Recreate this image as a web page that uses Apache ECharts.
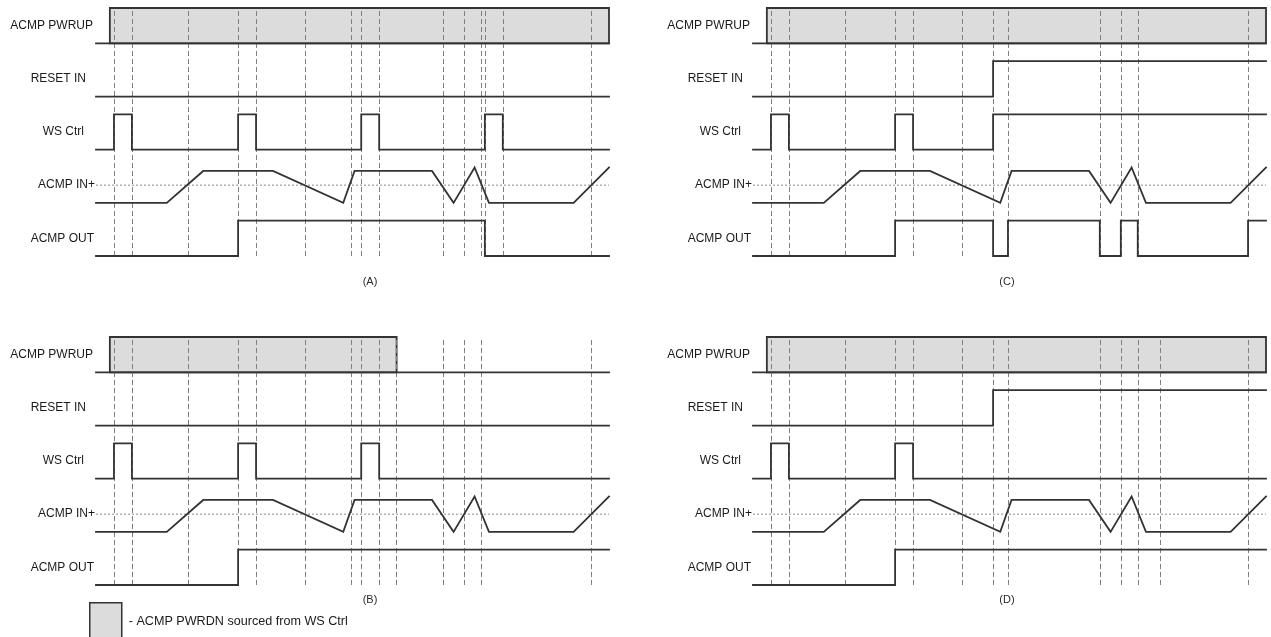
<!DOCTYPE html>
<html><head><meta charset="utf-8">
<script src="https://cdn.jsdelivr.net/npm/echarts@6/dist/echarts.min.js"></script>
<style>html,body{margin:0;padding:0;background:#fff}#c{width:1271px;height:637px}</style>
</head><body><div id="c"></div>
<script>
// ---------------- DATA (time in % of the diagram span) ----------------
const panelNames = ['(A)', '(B)', '(C)', '(D)'];
const signalNames = ['ACMP PWRUP', 'RESET IN', 'WS Ctrl', 'ACMP IN+', 'ACMP OUT'];
const timeEnd = 100;

// PWRUP (gray box = ACMP PWRDN sourced from WS Ctrl): [start, end]
const pwrupA = [2.7, 100];
const pwrupB = [2.7, 58.6];
const pwrupC = [2.7, 100];
const pwrupD = [2.7, 100];

// RESET IN: toggle times (starts low)
const resetA = [];
const resetB = [];
const resetC = [46.8];
const resetD = [46.8];

// WS Ctrl: toggle times (starts low)
const wsA = [3.5, 7.0, 27.7, 31.2, 51.7, 55.2, 75.8, 79.3];
const wsB = [3.5, 7.0, 27.7, 31.2, 51.7, 55.2];
const wsC = [3.5, 7.0, 27.7, 31.2, 46.8];
const wsD = [3.5, 7.0, 27.7, 31.2];

// ACMP IN+ analog waveform (same in all panels), level 0..1, threshold 0.5
const inTimes  = [0, 13.8, 20.9, 34.5, 48.2, 50.4, 65.5, 69.7, 73.8, 76.6, 93.1, 100];
const inLevels = [0, 0,    0.9,  0.9,  0,    0.9,  0.9,  0,    1.0,  0,    0,    1.0];
const threshold = 0.5;

// ACMP OUT: toggle times (starts low)
const outA = [27.7, 75.8];
const outB = [27.7];
const outC = [27.7, 46.8, 49.7, 67.6, 71.7, 75.0, 96.5];
const outD = [27.7];

// dashed timing markers
const marksA = [3.5, 7.0, 18.0, 27.7, 31.2, 40.7, 49.7, 51.7, 55.2, 67.6, 71.7, 75.0, 75.8, 79.3, 96.5];
const marksB = [3.5, 7.0, 18.0, 27.7, 31.2, 40.7, 49.7, 51.7, 55.2, 58.6, 67.6, 71.7, 75.0, 96.5];
const marksC = [3.5, 7.0, 18.0, 27.7, 31.2, 40.7, 46.8, 49.7, 67.6, 71.7, 75.0, 96.5];
const marksD = [3.5, 7.0, 18.0, 27.7, 31.2, 40.7, 46.8, 49.7, 67.6, 71.7, 75.0, 79.3, 96.5];

const legendName = '- ACMP PWRDN sourced from WS Ctrl';

// ---------------- LAYOUT / STYLE ----------------
const laneBase = [6, 4.5, 3, 1.5, 0];   // PWRUP, RESET, WS, IN+, OUT
const panels = [
  {pw: pwrupA, rs: resetA, ws: wsA, out: outA, marks: marksA, left: 96,  top: 8,   gap: 20, shift: [0,0,0,35]},
  {pw: pwrupB, rs: resetB, ws: wsB, out: outB, marks: marksB, left: 96,  top: 337, gap: 9,  shift: [0,0,0,35]},
  {pw: pwrupC, rs: resetC, ws: wsC, out: outC, marks: marksC, left: 753, top: 8,   gap: 20, shift: [0,5,0,0]},
  {pw: pwrupD, rs: resetD, ws: wsD, out: outD, marks: marksD, left: 753, top: 337, gap: 9,  shift: [0,5,0,0]}
];
const FONT = "'Liberation Sans', Arial, sans-serif";
const INK = '#333';

function digital(base, edges) {
  let lvl = 0;
  const pts = [[0, base]];
  edges.forEach(t => { pts.push([t, base + lvl]); lvl = 1 - lvl; pts.push([t, base + lvl]); });
  pts.push([timeEnd, base + lvl]);
  return pts;
}
function wave(i, data, z) {
  return {type: 'line', xAxisIndex: i, yAxisIndex: i, data: data, symbol: 'none', z: z || 5,
    lineStyle: {color: INK, width: 1.8, join: 'miter', cap: 'square'}, animation: false, silent: true};
}

const labelMap = {6.5: '{a|ACMP PWRUP}', 5: '{b|RESET IN}', 3.5: '{c|WS Ctrl}', 2: '{d|ACMP IN+}', 0.5: '{e|ACMP OUT}'};
const rt = (pr) => ({fontSize: 12, fontFamily: FONT, color: '#1a1a1a', padding: [0, pr, 0, 0]});

const grid = [], xAxis = [], yAxis = [], series = [];
panels.forEach((p, i) => {
  grid.push({left: p.left, top: p.top, width: 513, height: 248});
  xAxis.push({type: 'value', gridIndex: i, min: 0, max: timeEnd,
    name: panelNames[i], nameLocation: 'middle', nameGap: p.gap,
    nameTextStyle: {fontSize: 11, fontFamily: FONT, color: '#2a2a2a', padding: p.shift},
    axisLine: {show: false}, axisTick: {show: false}, axisLabel: {show: false}, splitLine: {show: false}});
  yAxis.push({type: 'value', gridIndex: i, min: 0, max: 7, interval: 0.5,
    axisLine: {show: false}, axisTick: {show: false}, splitLine: {show: false},
    axisLabel: {margin: 1, formatter: v => labelMap[v] || '',
      rich: {a: rt(2), b: rt(9), c: rt(11), d: rt(0), e: rt(1)}}});
  // gray PWRUP box
  series.push({type: 'custom', name: legendName, xAxisIndex: i, yAxisIndex: i, z: 1, animation: false, silent: true,
    itemStyle: {color: '#dcdcdc', borderColor: INK, borderWidth: 1.8},
    data: [[p.pw[0], p.pw[1], laneBase[0]]],
    renderItem: (params, api) => {
      const p0 = api.coord([api.value(0), api.value(2)]);
      const p1 = api.coord([api.value(1), api.value(2) + 1]);
      return {type: 'rect', shape: {x: p0[0], y: p1[1], width: p1[0] - p0[0], height: p0[1] - p1[1]},
        style: {fill: '#dcdcdc', stroke: INK, lineWidth: 1.8}};
    }});
  // threshold dotted line + dashed timing markers
  series.push({type: 'line', xAxisIndex: i, yAxisIndex: i, z: 3, symbol: 'none', animation: false, silent: true,
    data: [[0, laneBase[3] + threshold], [timeEnd, laneBase[3] + threshold]],
    lineStyle: {color: '#8a8a8a', width: 1, type: [2, 2]},
    markLine: {symbol: ['none', 'none'], silent: true, animation: false, label: {show: false},
      lineStyle: {color: '#808080', width: 1, type: [5, 3]},
      data: p.marks.map(t => ({xAxis: t}))}});
  series.push(wave(i, [[0, laneBase[0]], [timeEnd, laneBase[0]]]));
  series.push(wave(i, digital(laneBase[1], p.rs)));
  series.push(wave(i, digital(laneBase[2], p.ws)));
  series.push(wave(i, inTimes.map((t, k) => [t, laneBase[3] + inLevels[k]])));
  series.push(wave(i, digital(laneBase[4], p.out)));
});

const chart = echarts.init(document.getElementById('c'), null, {renderer: 'canvas'});
chart.setOption({
  backgroundColor: '#fff',
  animation: false,
  grid, xAxis, yAxis, series,
  legend: {left: 89, top: 602, itemWidth: 32, itemHeight: 38, selectedMode: false, padding: 0,
    textStyle: {fontSize: 12.6, fontFamily: FONT, color: '#1a1a1a', padding: [0, 0, 0, 2]},
    data: [{name: legendName, icon: 'rect', itemStyle: {color: '#dcdcdc', borderColor: INK, borderWidth: 1.5}}]}
});
</script></body></html>
